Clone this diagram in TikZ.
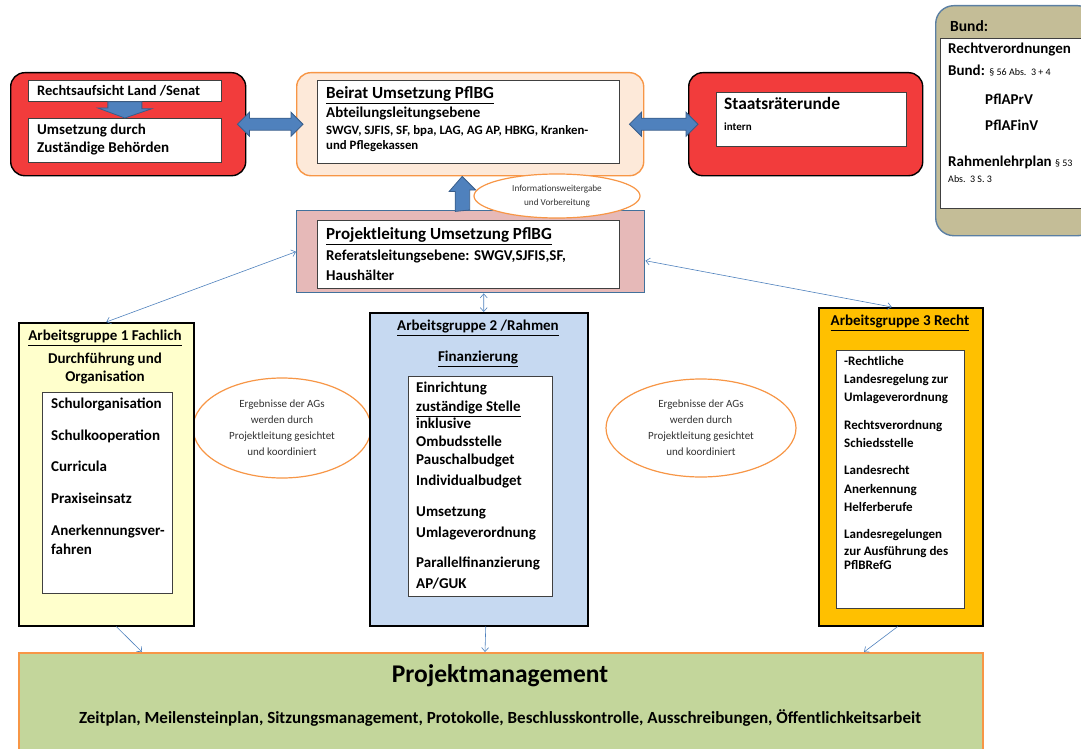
\documentclass[tikz,border=0pt]{standalone}
\usepackage{fontspec}
\setmainfont{Carlito}
\usetikzlibrary{arrows.meta, shapes.geometric, calc}

\definecolor{boxred}{HTML}{F23C3C}
\definecolor{peach}{HTML}{FDE9D9}
\definecolor{orangeline}{HTML}{F79646}
\definecolor{arrowblue}{HTML}{4F81BD}
\definecolor{arrowdark}{HTML}{385D8A}
\definecolor{pinkbox}{HTML}{E6B9B8}
\definecolor{pinkline}{HTML}{41719C}
\definecolor{yellowbox}{HTML}{FFFFCC}
\definecolor{bluebox}{HTML}{C6D9F1}
\definecolor{goldbox}{HTML}{FFC000}
\definecolor{greenbox}{HTML}{C3D69B}
\definecolor{tanbox}{HTML}{C4BD97}
\definecolor{bundline}{HTML}{5B7FA3}

\tikzset{
  frame/.style={draw, anchor=north west, inner sep=0},
  redframe/.style={frame, fill=boxred, line width=1.4pt, rounded corners=14pt},
  whitebox/.style={frame, fill=white, draw=black!75, line width=.7pt},
  agframe/.style={frame, draw=black, line width=1.5pt},
  blockarrow/.style={fill=arrowblue, draw=arrowdark, line width=.8pt},
  thinarrow/.style={draw=arrowblue, line width=.6pt},
  bubble/.style={ellipse, draw=orangeline, line width=1.2pt, fill=white, inner sep=0, align=center, text=black!80},
  txt/.style={anchor=west, inner sep=0, text height=2ex, text depth=.4ex, font=\fontsize{15}{17}\selectfont\bfseries},
  ctxt/.style={txt, anchor=center},
}

\begin{document}
\begin{tikzpicture}[x=1pt, y=-1pt, >={Straight Barb[length=4pt,width=7pt]}]
\useasboundingbox (0,0) rectangle (1081,749);

% obere Reihe
\node[redframe, minimum width=235, minimum height=103] (aufsicht) at (10,72) {};
\node[whitebox, minimum width=193, minimum height=21] (rechtsaufsicht) at (28,80) {};
\node[whitebox, minimum width=193, minimum height=44] (behoerden) at (28,118) {};
\node[txt, font=\fontsize{14.5}{16}\selectfont\bfseries] at (37,91.5) {Rechtsaufsicht Land /Senat};
\node[txt] at (37,131) {Umsetzung durch};
\node[txt] at (37,149) {Zuständige Behörden};
\draw[blockarrow] (rechtsaufsicht.south) ++(-17,0) -- ++(34,0) -- ++(0,7) -- ++(10,0)
  -- (behoerden.north) -- ++(-27,-10) -- ++(10,0) -- cycle;

\node[frame, fill=peach, draw=orangeline, line width=1.4pt, rounded corners=14pt,
  minimum width=347, minimum height=103] (beirat) at (296,72) {};
\node[whitebox, minimum width=302, minimum height=83] at (317,80) {};
\node[txt, font=\fontsize{17}{19}\selectfont\bfseries] at (326,95) {\underline{Beirat Umsetzung PflBG}};
\node[txt] at (326,114) {Abteilungsleitungsebene};
\node[txt, font=\fontsize{12.8}{15}\selectfont\bfseries] at (326,131) {SWGV, SJFIS, SF, bpa, LAG, AG AP, HBKG, Kranken-};
\node[txt, font=\fontsize{12.8}{15}\selectfont\bfseries] at (326,146) {und Pflegekassen};

\node[redframe, minimum width=234, minimum height=103] (staatsrat) at (688,72) {};
\node[whitebox, minimum width=190, minimum height=54] at (716,92) {};
\node[txt, font=\fontsize{17.4}{19}\selectfont\bfseries] at (724,106) {Staatsräterunde};
\node[txt, font=\fontsize{11}{13}\selectfont\bfseries] at (724,127) {intern};

% Doppelpfeile
\coordinate (la) at ($(aufsicht.east)+(-9,0)$);
\coordinate (ra) at ($(beirat.west)+(7,0)$);
\draw[blockarrow] (la) -- ++(12,-12) -- ++(0,6) -- ($(ra)+(-12,-6)$) -- ++(0,-6) -- (ra)
  -- ++(-12,12) -- ++(0,-6) -- ($(la)+(12,6)$) -- ++(0,6) -- cycle;
\coordinate (lb) at ($(beirat.east)+(-15,0)$);
\coordinate (rb) at ($(staatsrat.west)+(10,0)$);
\draw[blockarrow] (lb) -- ++(12,-12) -- ++(0,6) -- ($(rb)+(-12,-6)$) -- ++(0,-6) -- (rb)
  -- ++(-12,12) -- ++(0,-6) -- ($(lb)+(12,6)$) -- ++(0,6) -- cycle;

% Bund
\node[frame, fill=tanbox, draw=bundline, line width=1.4pt, rounded corners=18pt,
  minimum width=160, minimum height=230] (bund) at (935,5) {};
\node[whitebox, minimum width=150, minimum height=170] at (940,38) {};
\node[txt, font=\fontsize{15.5}{18}\selectfont\bfseries] at (950,28) {Bund:};
\node[txt] at (948,50) {Rechtverordnungen};
\node[txt] at (948,72) {Bund: {\fontsize{10}{12}\selectfont\mdseries § 56 Abs.\ \ 3 + 4}};
\node[txt] at (985,101) {PflAPrV};
\node[txt] at (985,127) {PflAFinV};
\node[txt] at (948,163) {Rahmenlehrplan {\fontsize{10}{12}\selectfont\mdseries § 53}};
\node[txt, font=\fontsize{10}{12}\selectfont] at (948,179) {Abs.\ \ 3 S.\ 3};

% Projektleitung
\node[frame, fill=pinkbox, draw=pinkline, line width=1.4pt, minimum width=348, minimum height=82] (projekt) at (296,210) {};
\node[whitebox, minimum width=302, minimum height=68] at (317,220) {};
\node[txt, font=\fontsize{17}{19}\selectfont\bfseries] at (326,236) {\underline{Projektleitung Umsetzung PflBG}};
\node[txt] at (326,257) {Referatsleitungsebene: SWGV,SJFIS,SF,};
\node[txt] at (326,277) {Haushälter};

\draw[blockarrow] ($(projekt.north)+(-1,0)$) -- ++(0,-20) -- ++(6,0) -- ($(beirat.south)+(-8,0)$)
  -- ++(-13,15) -- ++(6,0) -- ++(0,20) -- cycle;
\node[bubble, minimum width=166, minimum height=44, font=\fontsize{9.2}{14}\selectfont] (info) at (557,196)
  {Informationsweitergabe\\und Vorbereitung};

% Ergebnis-Ellipsen
\node[bubble, minimum width=178, minimum height=100, font=\fontsize{11}{16}\selectfont] (ergebnisl) at (282,428)
  {Ergebnisse der AGs\\werden durch\\Projektleitung gesichtet\\und koordiniert};
\node[bubble, minimum width=190, minimum height=98, font=\fontsize{11}{16}\selectfont] (ergebnisr) at (701,428)
  {Ergebnisse der AGs\\werden durch\\Projektleitung gesichtet\\und koordiniert};

% Arbeitsgruppe 1
\node[agframe, fill=yellowbox, minimum width=175, minimum height=303] (ag1) at (18,322) {};
\node[whitebox, minimum width=130, minimum height=201] at (42,392) {};
\node[ctxt] at (105,337) {\underline{Arbeitsgruppe 1 Fachlich}};
\node[ctxt] at (105,360) {Durchführung und};
\node[ctxt] at (105,378) {Organisation};
\foreach \y/\t in {405/Schulorganisation, 437/Schulkooperation, 468/Curricula,
  500/Praxiseinsatz, 532/Anerkennungsver-, 551/fahren}
  \node[txt] at (51,\y) {\t};

% Arbeitsgruppe 2
\node[agframe, fill=bluebox, minimum width=218, minimum height=313] (ag2) at (369,312) {};
\node[whitebox, minimum width=144, minimum height=220] at (408,376) {};
\node[ctxt] at (478,327) {\underline{Arbeitsgruppe 2 /Rahmen}};
\node[ctxt] at (478,358) {\underline{Finanzierung}};
\foreach \y/\t in {389/Einrichtung, 408/\underline{zuständige Stelle}, 425/inklusive, 443/Ombudsstelle,
  461/Pauschalbudget, 482/Individualbudget, 513/Umsetzung, 534/Umlageverordnung,
  564/Parallelfinanzierung, 585/{AP/GUK}}
  \node[txt] at (416,\y) {\t};

% Arbeitsgruppe 3
\node[agframe, fill=goldbox, minimum width=164, minimum height=318] (ag3) at (818,307) {};
\node[whitebox, minimum width=128, minimum height=258] at (836,350) {};
\node[ctxt] at (900,322) {\underline{Arbeitsgruppe 3 Recht}};
\foreach \y/\t in {362/-Rechtliche, 380/Landesregelung zur, 398/Umlageverordnung, 426/Rechtsverordnung,
  444/Schiedsstelle, 471/Landesrecht, 490/Anerkennung, 508/Helferberufe, 535/Landesregelungen,
  552/zur Ausführung des, 566/PflBRefG}
  \node[txt, font=\fontsize{13}{15}\selectfont\bfseries] at (844,\y) {\t};

% Projektmanagement
\node[frame, fill=greenbox, draw=orangeline, line width=1.6pt, minimum width=964, minimum height=110] (pm) at (18,652) {};
\node[ctxt, font=\fontsize{25.5}{28}\selectfont\bfseries] at (500,679) {Projektmanagement};
\node[ctxt, font=\fontsize{17}{19}\selectfont\bfseries] at (500,720)
  {Zeitplan, Meilensteinplan, Sitzungsmanagement, Protokolle, Beschlusskontrolle, Ausschreibungen, Öffentlichkeitsarbeit};

% Verbindungen
\draw[thinarrow, <->] (projekt.west) -- (ag1.north);
\draw[thinarrow, <->] ($(projekt.east)+(0,9)$) -- ($(ag3.north)+(-9,0)$);
\draw[thinarrow, <->] ($(projekt.south)+(13,0)$) -- ($(ag2.north)+(5,0)$);
\draw[thinarrow, ->] ($(ag1.south)+(10,0)$) -- ($(pm.north west)+(124,0)$);
\draw[thinarrow, ->] ($(ag2.south)+(7,0)$) -- ($(pm.north west)+(467,0)$);
\draw[thinarrow, ->] ($(ag3.south)+(-3,0)$) -- ($(pm.north west)+(846,0)$);
\end{tikzpicture}
\end{document}
